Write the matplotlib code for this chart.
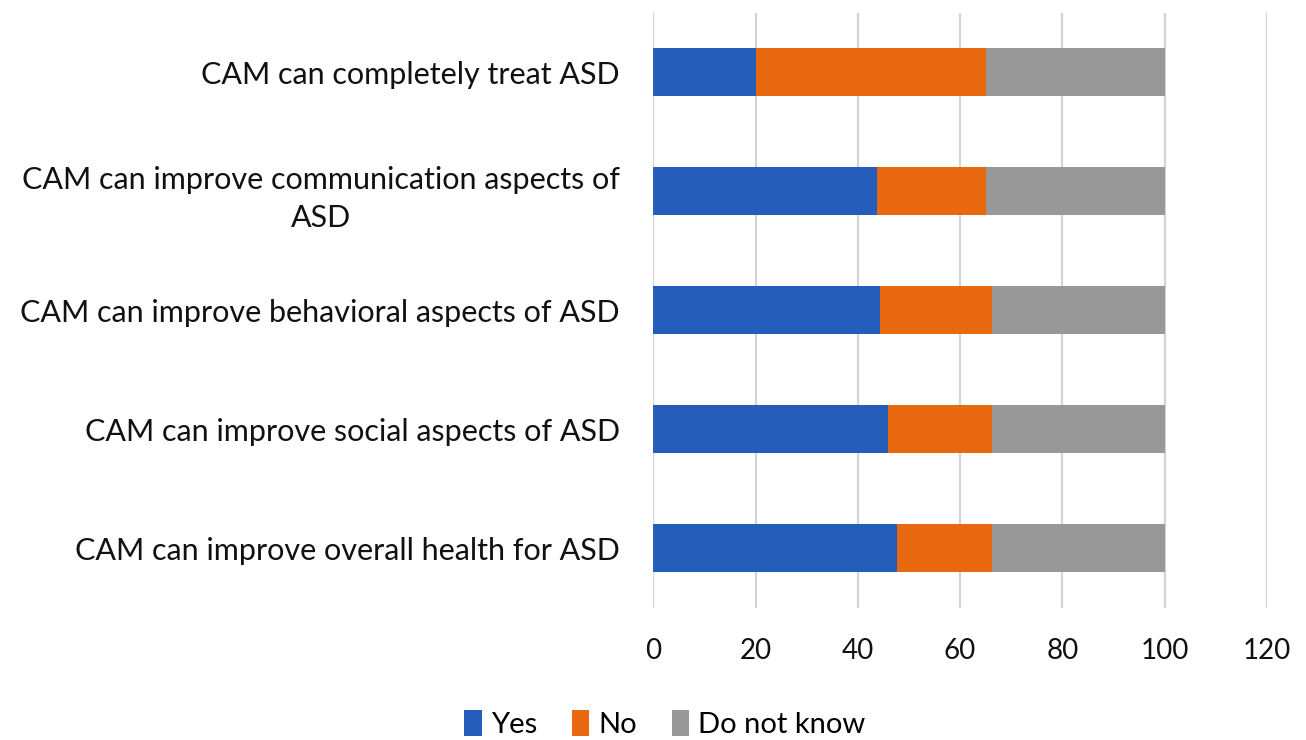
import matplotlib
matplotlib.use("Agg")
import matplotlib.pyplot as plt
import numpy as np

categories = [
    "CAM can completely treat ASD",
    "CAM can improve communication aspects of\nASD",
    "CAM can improve behavioral aspects of ASD",
    "CAM can improve social aspects of ASD",
    "CAM can improve overall health for ASD",
]
yes = [20.0, 43.7, 44.3, 45.8, 47.7]
no = [45.0, 21.3, 21.9, 20.5, 18.5]
dont_know = [35.0, 35.0, 33.8, 33.7, 33.8]
series_names = ["Yes", "No", "Do not know"]
colors = ["#255dbb", "#e8680f", "#989898"]
xticks = [0, 20, 40, 60, 80, 100, 120]

plt.rcParams["font.family"] = ["Lato", "DejaVu Sans"]

fig = plt.figure(figsize=(13.06, 7.40), dpi=100)
ax = fig.add_axes([0.5003, 0.179, 0.4697, 0.804])

y = np.arange(len(categories))
left = np.zeros(len(categories))
for vals, name, c in zip([yes, no, dont_know], series_names, colors):
    ax.barh(y, vals, left=left, height=0.4, color=c, label=name, zorder=3)
    left += np.array(vals)

ax.set_xlim(0, 120)
ax.set_ylim(len(categories) - 0.5, -0.5)
ax.set_xticks(xticks)
ax.set_yticks(y)
ax.set_yticklabels(categories, fontsize=22, multialignment="center",
                   linespacing=1.45, color="#111111")
ax.tick_params(axis="x", labelsize=20, length=0, pad=22, colors="#111111")
ax.tick_params(axis="y", length=0, pad=24)
ax.grid(axis="x", color="#d4d4d4", linewidth=1.6, zorder=0)
for s in ax.spines.values():
    s.set_visible(False)

fig.legend(loc="center", bbox_to_anchor=(0.509, 0.022), ncol=3, frameon=False,
           fontsize=21, handlelength=0.6, handleheight=1.0, handletextpad=0.3,
           columnspacing=1.2)

fig.savefig("out.png", dpi=100)
